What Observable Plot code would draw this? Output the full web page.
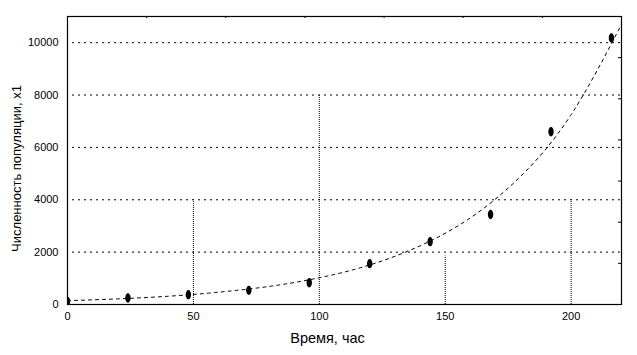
<!DOCTYPE html>
<html>
<head>
<meta charset="utf-8">
<script src="https://cdn.jsdelivr.net/npm/d3@7"></script>
<script src="https://cdn.jsdelivr.net/npm/@observablehq/plot@0.6"></script>
<style>
  html, body { margin: 0; padding: 0; background: #fff; }
  #chart svg { display: block; }
</style>
</head>
<body>
<div id="chart"></div>
<script>
// Observed points
const timeH = [0, 24, 48, 72, 96, 120, 144, 168, 192, 216];
const population = [120, 250, 370, 540, 830, 1560, 2400, 3440, 6600, 10180];
// Fitted (dashed) curve
const fitTime = [0, 20, 40, 60, 80, 100, 120, 140, 160, 180, 200, 220];
const fitPopulation = [145, 215, 315, 470, 690, 1020, 1510, 2240, 3310, 4900, 7250, 10700];
// Axes
const xTicks = [0, 50, 100, 150, 200];
const yTicks = [0, 2000, 4000, 6000, 8000, 10000];
const yGrid = [2000, 4000, 6000, 8000, 10000];
// Vertical dotted guides (x, top value)
const guideX = [50, 100, 150, 200];
const guideTop = [4000, 8000, 1850, 4000];
// Minor frame ticks (top and right)
const topMinor = [1, 2, 3, 4, 5, 6].map(i => i * 220 / 7);
const rightMinor = [1, 2, 3, 4, 5, 6].map(i => i * 11000 / 7);

const pts = timeH.map((t, i) => ({t, p: population[i]}));
const fit = fitTime.map((t, i) => ({t, p: fitPopulation[i]}));
const guides = guideX.map((x, i) => ({x, top: guideTop[i]}));

const ellipse = {
  draw(ctx) {
    const rx = 2.7, ry = 4.7, k = 0.5523;
    ctx.moveTo(rx, 0);
    ctx.bezierCurveTo(rx, ry * k, rx * k, ry, 0, ry);
    ctx.bezierCurveTo(-rx * k, ry, -rx, ry * k, -rx, 0);
    ctx.bezierCurveTo(-rx, -ry * k, -rx * k, -ry, 0, -ry);
    ctx.bezierCurveTo(rx * k, -ry, rx, -ry * k, rx, 0);
    ctx.closePath();
  }
};

const W = 637, H = 355, mL = 67, mR = 16, mT = 16, mB = 51;
const innerW = W - mL - mR, innerH = H - mT - mB;

const chart = Plot.plot({
  width: W,
  height: H,
  marginLeft: mL,
  marginRight: mR,
  marginTop: mT,
  marginBottom: mB,
  style: {fontFamily: "'Liberation Sans', Arial, sans-serif", fontSize: "11px", color: "#000", background: "#fff"},
  x: {domain: [0, 220]},
  y: {domain: [0, 11000]},
  marks: [
    Plot.ruleY(yGrid, {stroke: "#000", strokeWidth: 1, strokeDasharray: "2,4", strokeDashoffset: -5}),
    Plot.ruleX(guides, {x: "x", y1: 0, y2: "top", stroke: "#000", strokeWidth: 1, strokeDasharray: "1,1"}),
    Plot.line(fit, {x: "t", y: "p", curve: "natural", stroke: "#000", strokeWidth: 1, strokeDasharray: "3,4", clip: true}),
    Plot.dot(pts, {x: "t", y: "p", symbol: ellipse, fill: "#000", stroke: null, clip: true}),
    Plot.tickX(topMinor, {x: d => d, stroke: "#000", insetBottom: innerH - 2}),
    Plot.tickY(rightMinor, {y: d => d, stroke: "#000", insetLeft: innerW - 3}),
    Plot.frame({stroke: "#000", strokeWidth: 1.2}),
    Plot.axisY({ticks: yTicks, tickSize: 0, tickPadding: 9, tickFormat: d => String(d), label: null, fontSize: 11}),
    Plot.axisX({ticks: xTicks, tickSize: 0, tickPadding: 8, tickFormat: d => String(d), label: null, fontSize: 11}),
    Plot.text(["Время, час"], {frameAnchor: "bottom", dy: 34, dx: -17, fontSize: 14.5, textAnchor: "middle", lineAnchor: "middle", fill: "#000"}),
    Plot.text(["Численность популяции, x1"], {frameAnchor: "left", dx: -51, dy: 8, rotate: -90, fontSize: 13, textAnchor: "middle", lineAnchor: "middle", fill: "#000"})
  ]
});

document.getElementById("chart").appendChild(chart);
</script>
</body>
</html>
